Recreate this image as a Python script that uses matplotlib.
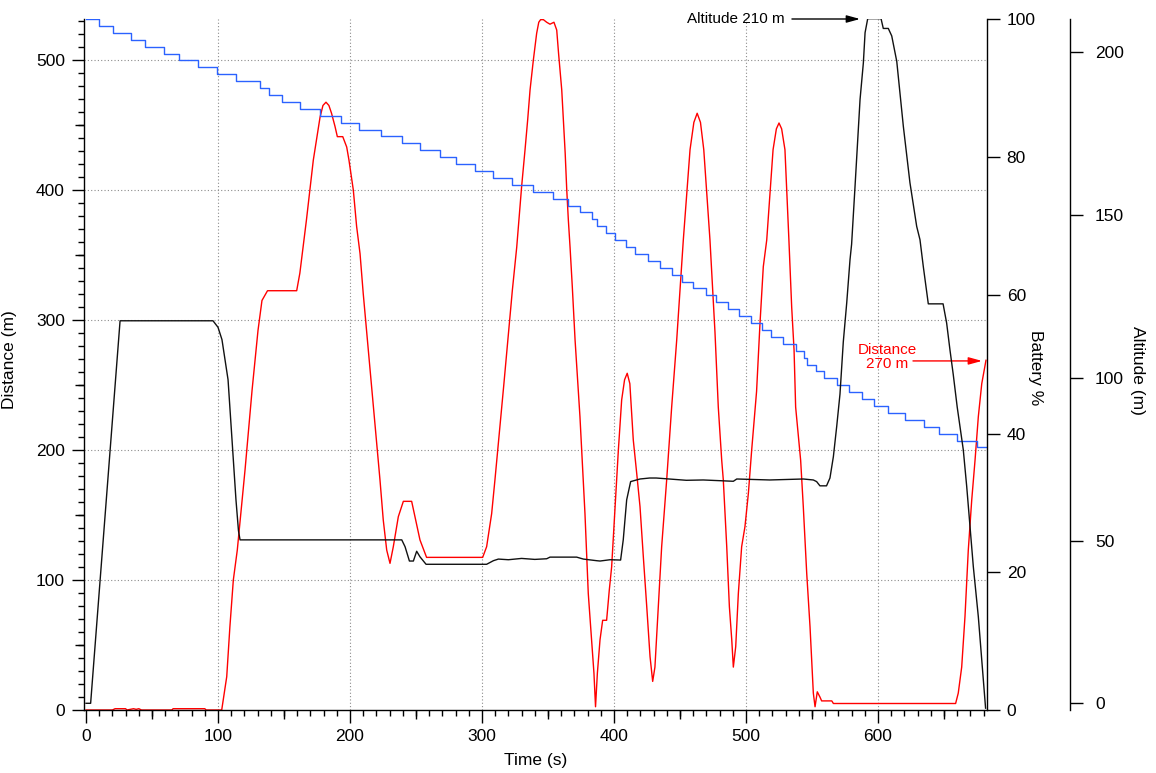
import matplotlib
matplotlib.use("Agg")
import matplotlib.pyplot as plt
from matplotlib.ticker import MultipleLocator, NullFormatter

plt.rcParams['font.family'] = ['Liberation Sans', 'DejaVu Sans']

# Distance from home (m)
dist_time = [0, 20, 22, 30, 31, 36, 38, 40, 42, 65, 66, 90, 91, 102.8, 106.6, 109, 111.6,
             114.6, 120.5, 125.8, 130.3, 133.3, 135, 137.5, 159.6, 162, 167, 172.2, 177.3,
             179.5, 181.8, 184, 186, 188.6, 190.4, 194.5, 197.5, 199.2, 202.5, 205, 207.6,
             210, 216, 222.7, 225.2, 227.8, 230.3, 232.8, 236.6, 240.4, 246.7, 249.2, 253,
             258, 300.5, 303.5, 307.3, 309.8, 316.5, 323, 326.3, 330, 332.6, 334.6, 336.4,
             338.9, 341.4, 343, 344.4, 346.5, 349, 351.5, 354.5, 356.6, 358, 359, 360.4,
             361.6, 363, 364.2, 365.4, 366.7, 368.4, 370.5, 374.2, 378, 380.5, 383, 384.8,
             386, 387.4, 389.4, 391.4, 394.4, 396.4, 398.2, 400.8, 403.3, 405.8, 408, 410,
             412, 414.6, 417.2, 419.7, 422.2, 424.8, 427.3, 429.3, 431, 433.6, 436.1, 439.9,
             443.7, 447.5, 452.5, 457.6, 460.5, 463, 465.5, 468, 472.7, 476.5, 479, 481.6,
             482.8, 485.4, 487.4, 489.2, 490.4, 492.2, 494.2, 496.7, 499.2, 501.8, 504.3,
             508, 510.6, 513.1, 515.7, 520.5, 523, 525, 527, 529.5, 532.5, 534.6, 536.4,
             537.6, 541.4, 543.4, 546, 548.5, 551, 552.3, 554, 556, 557.3, 565, 566.2,
             658.8, 660.8, 663.4, 665.9, 668.4, 671, 673.5, 676, 678.6, 681.8]
dist_m = [0, 0, 1, 1, 0, 1, 0.5, 1, 0, 0, 1, 1, 0, 0, 25.6, 64, 100,
          123, 185, 246, 292, 315, 318, 322.5, 322.5, 336, 377, 423, 456,
          465, 467.5, 465, 459, 449, 441, 441, 433, 423, 400, 372, 351,
          320.5, 253, 177, 146, 123, 112.8, 125.6, 148.7, 160.5, 160.5, 148.7, 130.8,
          117.4, 117.4, 125.6, 151, 177, 250, 323, 356, 402.5, 431, 454, 477,
          500, 520.5, 529, 531, 531, 529, 527.5, 529, 523, 505, 493.6, 477,
          454, 428.5, 400, 377, 356, 325.6, 284.6, 225.6, 151, 89.7, 53.8, 28.4,
          2.5, 28.4, 54, 69, 69, 92, 110, 156.4, 200, 238.5, 254, 259,
          251, 207.7, 182, 156.4, 118, 79.5, 41, 22, 33, 79.5, 125.6, 177,
          233.3, 284.6, 361.5, 431, 452, 459, 452, 431, 361.5, 290.5, 233, 192,
          177, 125.6, 79.5, 54, 33, 48.7, 89.7, 125.6, 141, 166.7, 200,
          245, 297.5, 341, 361.5, 431, 447, 451.5, 447, 431, 361.5, 310, 277,
          233, 192, 156.4, 105, 64, 13, 2.5, 14, 10, 7, 7, 5,
          5, 13, 33, 72, 123, 161.5, 192, 225.6, 251, 269]

# Battery level (%), stepped
battery_time = [0, 10.1, 20.7, 33.8, 44.9, 59.1, 70.7, 85.1, 99.0, 113.9, 132.0, 138.4,
                148.7, 162.1, 177.0, 193.2, 207.0, 223.2, 239.2, 253.3, 268.4, 280.1, 294.5,
                308.1, 322.5, 338.9, 354.0, 365.2, 374.5, 383.3, 387.3, 394.2, 400.8, 409.3,
                416.1, 426.0, 435.1, 443.7, 451.3, 459.6, 469.7, 477.5, 486.4, 494.5, 504.0,
                512.1, 519.2, 528.2, 537.6, 543.9, 546.2, 553.0, 559.3, 569.2, 578.3, 587.9,
                597.2, 607.3, 620.5, 634.6, 646.2, 659.8, 674.8, 682.8]
battery_pct = [100, 99, 98, 97, 96, 95, 94, 93, 92, 91, 90, 89,
               88, 87, 86, 85, 84, 83, 82, 81, 80, 79, 78,
               77, 76, 75, 74, 73, 72, 71, 70, 69, 68, 67,
               66, 65, 64, 63, 62, 61, 60, 59, 58, 57, 56,
               55, 54, 53, 52, 51, 50, 49, 48, 47, 46, 45,
               44, 43, 42, 41, 40, 39, 38, 38]

# Altitude (m)
alt_time = [0, 3.5, 25.8, 96.2, 100, 103, 107.6, 110.6, 113.6, 115.5, 116.7, 239.2, 241.7,
            245, 248, 250.5, 253, 257.6, 303.5, 308.6, 312.4, 320, 330, 340, 349, 351.5,
            371.7, 376.8, 386.9, 389.4, 397, 405, 407, 409.6, 412.6, 419.7, 427, 432,
            454.8, 467.6, 490.4, 493, 518, 543.4, 551, 553.5, 556, 561, 563.6, 566.2,
            568.7, 571.2, 573.7, 576.3, 578.8, 580, 582.6, 586.4, 588.9, 590.2, 592.2,
            602.3, 604, 607.8, 610.4, 614.2, 619.2, 624.2, 629.3, 631.8, 634.3, 638.1,
            649.3, 652, 654.5, 657, 660, 664.6, 667.2, 669.7, 672.2, 676, 678.6, 681.5]
alt_m = [0, 0, 117.5, 117.5, 115.5, 111.7, 99.4, 81, 62.5, 53, 50.2, 50.2, 48.1,
         43.7, 43.7, 46.7, 45, 42.7, 42.7, 43.8, 44.3, 44.1, 44.5, 44.2, 44.4, 44.9,
         44.9, 44.3, 43.8, 43.7, 44.1, 44, 50.2, 62.5, 68.1, 68.9, 69.2, 69.2,
         68.5, 68.6, 68.2, 68.9, 68.6, 68.9, 68.6, 68.1, 66.8, 66.8, 69.2, 75.8,
         85, 95, 111, 123, 136.3, 141, 158.8, 185.5, 196.7, 206, 210.3,
         210.3, 207.3, 207.3, 205, 197.2, 177.2, 159.9, 146.5, 142.4, 134.2, 122.7,
         122.7, 116.8, 108.6, 101, 91, 77.9, 66.6, 54.3, 42, 26.6, 13.3, -1.5]

fig = plt.figure(figsize=(11.56, 7.73), dpi=100)
ax = fig.add_axes([84.3 / 1156, 63 / 773, 903 / 1156, 691 / 773])
axb = ax.twinx()
axa = ax.twinx()

label_size = 12.5
grid_kw = dict(color='#8c8c8c', lw=0.8, linestyle=(0, (1, 2)), zorder=0)

# Distance axis (left / bottom)
ax.plot(dist_time, dist_m, color='#ff0000', lw=1.0)
ax.set_xlim(-1.3, 682.8)
ax.set_ylim(0, 531.5)
ax.xaxis.set_major_locator(MultipleLocator(100))
ax.xaxis.set_minor_locator(MultipleLocator(10))
ax.yaxis.set_major_locator(MultipleLocator(100))
ax.yaxis.set_minor_locator(MultipleLocator(10))
ax.tick_params(which='major', direction='out', length=9, width=1, labelsize=label_size, pad=5)
ax.tick_params(which='minor', direction='out', length=4, width=1)
for s in ['top', 'right']:
    ax.spines[s].set_visible(False)
for s in ['left', 'bottom']:
    ax.spines[s].set_linewidth(1.0)
for v in range(100, 700, 100):
    ax.axvline(v, **grid_kw)
for v in range(100, 600, 100):
    ax.axhline(v, **grid_kw)

# medium ticks every 50
secx = ax.secondary_xaxis('bottom')
secx.set_xticks(list(range(50, 700, 100)))
secx.tick_params(length=6.5, width=1, labelbottom=False)
secx.spines['bottom'].set_visible(False)
secy = ax.secondary_yaxis('left')
secy.set_yticks(list(range(50, 550, 100)))
secy.tick_params(length=6.5, width=1, labelleft=False)
secy.spines['left'].set_visible(False)

# Battery axis
axb.step(battery_time, battery_pct, where='post', color='#2b62ff', lw=1.0)
axb.set_ylim(0, 100)
axb.yaxis.set_major_locator(MultipleLocator(20))
axb.tick_params(direction='out', length=9, width=1, labelsize=label_size, pad=5)
for s in ['top', 'left', 'bottom']:
    axb.spines[s].set_visible(False)
axb.spines['right'].set_linewidth(1.0)

# Altitude axis
axa.plot(alt_time, alt_m, color='#111111', lw=1.0)
axa.set_ylim(-2.06, 210.2)
axa.yaxis.set_major_locator(MultipleLocator(50))
axa.spines['right'].set_position(('axes', 1 + 82.7 / 903))
axa.tick_params(direction='out', length=9, width=1, labelsize=label_size, pad=9)
for s in ['top', 'left', 'bottom']:
    axa.spines[s].set_visible(False)
axa.spines['right'].set_linewidth(1.0)

# Axis labels
fig.text(10 / 1156, 1 - 360 / 773, 'Distance (m)', rotation=90, ha='center', va='center',
         fontsize=label_size)
fig.text(535.8 / 1156, 1 - 761 / 773, 'Time (s)', ha='center', va='center', fontsize=label_size)
fig.text(1035.5 / 1156, 1 - 368 / 773, 'Battery %', rotation=270, ha='center', va='center',
         fontsize=label_size)
fig.text(1137.5 / 1156, 1 - 370 / 773, 'Altitude (m)', rotation=270, ha='center', va='center',
         fontsize=label_size)

# Annotations
arrow_kw = dict(arrowstyle='-|>,head_length=0.8,head_width=0.22', lw=1.0, mutation_scale=10,
                shrinkA=0, shrinkB=0)
axa.annotate('', xy=(586.4, 210.2), xytext=(534.8, 210.2),
             arrowprops=dict(color='black', **arrow_kw))
axa.text(529.5, 210.2, 'Altitude 210 m', ha='right', va='center', fontsize=11)
ax.annotate('', xy=(678.8, 268.5), xytext=(626.5, 268.5),
            arrowprops=dict(color='#ff0000', **arrow_kw))
ax.text(606.8, 271.5, 'Distance\n270 m', ha='center', va='center', fontsize=11,
        color='#ff0000', linespacing=1.0)

fig.savefig('out.png', dpi=100)
